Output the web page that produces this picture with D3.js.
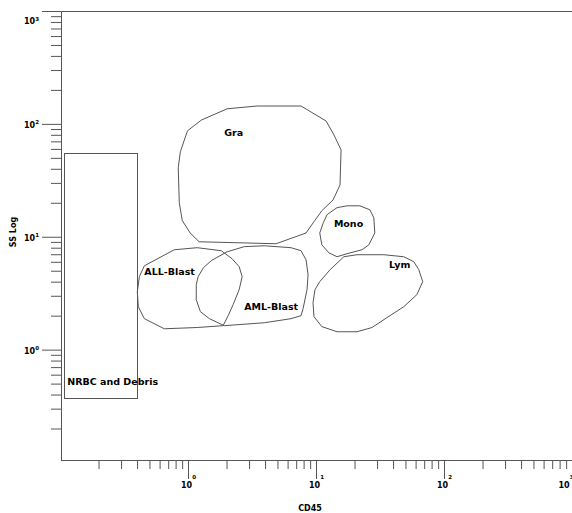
<!DOCTYPE html>
<html><head><meta charset="utf-8">
<script src="https://cdn.jsdelivr.net/npm/d3@7"></script>
<style>
body{margin:0;background:#fff}
svg{display:block}
text{font-family:"DejaVu Sans",Verdana,sans-serif;font-weight:bold;fill:#000}
</style>
</head><body><svg id="c" width="572" height="513"></svg>
<script>
// ---- axes ----
const xDomain = [0.1, 1000];
const yDomain = [0.1, 1000];
const xMajorTicks = [1, 10, 100, 1000];
const xTickExponents = ["0", "1", "2", "3"];
const yMajorTicks = [1, 10, 100, 1000];
const yTickExponents = ["0", "1", "2", "3"];
const xTitle = "CD45";
const yTitle = "SS Log";

// ---- gates (CD45, SS) ----
const nrbcX = [0.107, 0.397];
const nrbcY = [0.374, 55.1];

const graX = [0.99,1.27,2.02,3.47,7.64,12.0,13.8,15.7,15.4,13.6,11.1,9.64,8.36,4.88,1.22,1.04,0.902,0.855,0.839,0.871];
const graY = [86.7,108,136,144,144,106,80.0,58.9,28.8,21.2,17.0,13.6,10.8,8.67,9.03,10.8,13.9,20.0,40.8,56.5];

const allX = [0.456,0.782,1.18,1.82,2.21,2.51,2.65,2.51,2.25,2.06,1.88,1.18,0.653,0.456,0.409,0.402,0.417];
const allY = [5.53,7.67,8.00,7.52,6.38,5.43,4.43,3.40,2.50,2.00,1.63,1.57,1.53,1.88,2.40,3.26,4.43];

const amlX = [1.20,1.32,1.52,2.02,2.75,3.94,6.38,7.64,8.36,8.67,8.51,7.93,7.64,6.38,3.94,1.92,1.47,1.25,1.16,1.16];
const amlY = [4.43,5.32,6.14,7.36,8.17,8.32,8.00,7.52,6.25,4.61,3.40,2.31,2.00,1.88,1.73,1.63,1.88,2.17,2.77,3.76];

const monoX = [12.2,14.6,17.5,22.0,26.4,28.3,28.8,25.9,22.9,17.5,14.6,12.6,11.1,10.7,11.4];
const monoY = [15.7,18.1,18.8,18.8,17.3,14.7,10.8,8.49,7.67,7.08,6.65,7.21,8.49,10.8,13.3];

const lymX = [16.5,20.9,33.9,48.5,58.1,63.5,68.2,61.4,48.5,35.8,27.4,20.9,14.6,11.1,9.64,9.48,9.82,10.7,12.9];
const lymY = [6.65,6.93,6.93,6.65,6.01,5.11,4.00,3.07,2.40,1.92,1.57,1.44,1.44,1.60,1.96,2.61,3.40,4.00,5.11];

const labelNames = ["Gra","ALL-Blast","AML-Blast","Mono","Lym","NRBC and Debris"];
const labelX = [1.92, 0.456, 2.75, 13.8, 37.1, 0.114];
const labelY = [78.3, 4.56, 2.24, 12.1, 5.26, 0.490];

// ---- drawing ----
const W = 572, H = 513;
const plot = {left: 61, top: 11, right: 572, bottom: 460};
const ink = "#555";
const svg = d3.select("#c");

const x = d3.scaleLog().domain(xDomain).range([60, 572]);
const y = d3.scaleLog().domain(yDomain).range([462.5, 11]);

const isMajor = v => Math.abs(Math.log10(v) - Math.round(Math.log10(v))) < 1e-6;

// frame
svg.append("path")
  .attr("d", `M${plot.left+0.5},${plot.bottom+0.5}V${plot.top+0.5}H${plot.right}`)
  .attr("fill", "none").attr("stroke", ink);
svg.append("path")
  .attr("d", `M${plot.left},${plot.bottom+0.5}H${plot.right}`)
  .attr("fill", "none").attr("stroke", ink);

function styleAxis(g) {
  g.select(".domain").remove();
  g.selectAll("line").attr("stroke", ink);
}

// y axis ticks
const yMinor = y.ticks().filter(v => !isMajor(v) && v > yDomain[0] * 1.01 && v < yDomain[1]);
svg.append("g").attr("transform", `translate(${plot.left},0)`)
  .call(d3.axisLeft(y).tickValues(yMinor).tickSize(10).tickFormat(""))
  .call(styleAxis);
svg.append("g").attr("transform", `translate(${plot.left},0)`)
  .call(d3.axisLeft(y).tickValues(yMajorTicks).tickSize(19).tickFormat(""))
  .call(styleAxis);

// x axis ticks
const xMinor = x.ticks().filter(v => !isMajor(v) && v > xDomain[0] * 1.01 && v < xDomain[1]);
svg.append("g").attr("transform", `translate(0,${plot.bottom+1})`)
  .call(d3.axisBottom(x).tickValues(xMinor).tickSize(8).tickFormat(""))
  .call(styleAxis);
svg.append("g").attr("transform", `translate(0,${plot.bottom+1})`)
  .call(d3.axisBottom(x).tickValues(xMajorTicks).tickSize(18).tickFormat(""))
  .call(styleAxis);

// y tick labels
svg.append("g").selectAll("text").data(yMajorTicks).join("text")
  .attr("x", 39)
  .attr("y", v => Math.max(y(v) + 4, 24))
  .attr("text-anchor", "end")
  .attr("font-size", 8)
  .text("10")
  .append("tspan").attr("font-size", 5.5).attr("dy", -3.5)
  .text(v => yTickExponents[yMajorTicks.indexOf(v)]);

// x tick labels
svg.append("g").selectAll("text").data(xMajorTicks).join("text")
  .attr("x", v => Math.min(x(v) + 0.5, 566))
  .attr("y", 488)
  .attr("text-anchor", "middle")
  .attr("font-size", 8)
  .text("10")
  .append("tspan").attr("font-size", 5.5).attr("dy", -9.5)
  .text(v => xTickExponents[xMajorTicks.indexOf(v)]);

// axis titles
svg.append("text").attr("x", 310).attr("y", 510.5)
  .attr("text-anchor", "middle").attr("font-size", 8).text(xTitle);
svg.append("text").attr("transform", "translate(15.5,232) rotate(-90)")
  .attr("text-anchor", "middle").attr("font-size", 8).text(yTitle);

// gates
const gates = [
  d3.zip(graX, graY),
  d3.zip(allX, allY),
  d3.zip(amlX, amlY),
  d3.zip(monoX, monoY),
  d3.zip(lymX, lymY)
];
const line = d3.line().x(d => x(d[0])).y(d => y(d[1])).curve(d3.curveLinearClosed);
svg.append("g").selectAll("path").data(gates).join("path")
  .attr("d", line)
  .attr("fill", "none").attr("stroke", ink).attr("stroke-width", 1);

svg.append("rect")
  .attr("x", Math.round(x(nrbcX[0])) + 0.5)
  .attr("y", Math.round(y(nrbcY[1])) + 0.5)
  .attr("width", Math.round(x(nrbcX[1]) - x(nrbcX[0])))
  .attr("height", Math.round(y(nrbcY[0]) - y(nrbcY[1])))
  .attr("fill", "none").attr("stroke", ink);

// gate labels
svg.append("g").selectAll("text").data(labelNames).join("text")
  .attr("x", (d, i) => x(labelX[i]))
  .attr("y", (d, i) => y(labelY[i]))
  .attr("font-size", 9.5)
  .text(d => d);
</script>
</body></html>
